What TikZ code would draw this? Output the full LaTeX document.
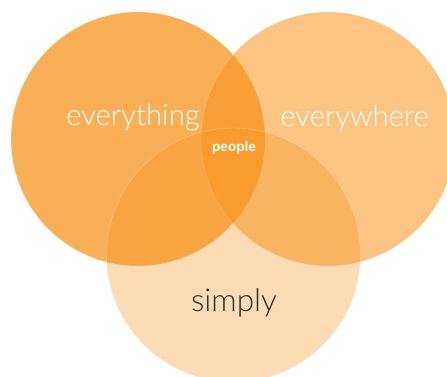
\documentclass[tikz,border=0pt]{standalone}
\usepackage{fontspec}
\setmainfont{Liberation Sans}
\newfontfamily\lightfont{Lato Light}
\definecolor{base}{HTML}{F7941D}
\definecolor{darktext}{HTML}{2E2E2E}
\tikzset{
  setcircle/.style={circle, minimum size=254pt, inner sep=0pt, fill=base, draw=white, draw opacity=0.35, line width=0.4pt},
  biglabel/.style={text=white, font=\lightfont\fontsize{29.3}{31}\selectfont, inner sep=0pt},
}
\begin{document}
\begin{tikzpicture}[x=1pt,y=-1pt]
\useasboundingbox (0,0) rectangle (447,376);
\clip (0,0) rectangle (447,376);
\node[setcircle, fill opacity=0.75] (left) at (138,139) {};
\node[setcircle, fill opacity=0.55] (right) at (328,139) {};
\node[setcircle, fill opacity=0.33] (bottom) at (233.5,255) {};
\node[biglabel] (everything) at (133,118) {everything};
\node[biglabel] (everywhere) at (354.5,118) {everywhere};
\node[biglabel, text=darktext, font=\lightfont\fontsize{31.5}{33}\selectfont] (simply) at (234,303) {simply};
\node[text=white, font=\bfseries\fontsize{13.5}{15}\selectfont, inner sep=0pt] (people) at (234,148) {people};
\end{tikzpicture}
\end{document}
